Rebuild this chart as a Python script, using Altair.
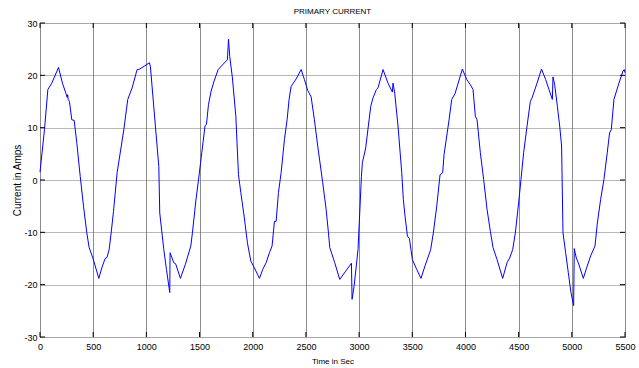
import altair as alt
import pandas as pd

time_s = [0, 42, 74, 111, 174, 211, 243, 255, 260, 265, 277, 299, 321, 346, 378, 409, 440, 462, 497,
          553, 581, 612, 630, 650, 669, 691, 725, 788, 825, 866, 913, 938, 1029, 1038, 1085, 1117, 1126,
          1164, 1189, 1220, 1223, 1258, 1275, 1320, 1367, 1418, 1433, 1465, 1490, 1521, 1552, 1565, 1584,
          1609, 1637, 1675, 1762, 1772, 1784, 1809, 1841, 1866, 1888, 1919, 1950, 1982, 2016, 2063, 2094,
          2126, 2157, 2182, 2204, 2220, 2242, 2267, 2298, 2323, 2342, 2361, 2408, 2455, 2486, 2517, 2549,
          2580, 2611, 2658, 2690, 2712, 2724, 2771, 2818, 2928, 2934, 2953, 2990, 3022, 3031, 3062, 3094,
          3110, 3131, 3163, 3178, 3225, 3272, 3313, 3319, 3335, 3366, 3401, 3416, 3432, 3454, 3473, 3501,
          3542, 3582, 3620, 3673, 3698, 3730, 3761, 3786, 3799, 3824, 3846, 3871, 3902, 3971, 4012, 4046,
          4071, 4093, 4109, 4140, 4171, 4203, 4234, 4259, 4297, 4350, 4391, 4416, 4444, 4469, 4500, 4522,
          4547, 4579, 4610, 4626, 4673, 4715, 4754, 4785, 4817, 4823, 4839, 4864, 4886, 4904, 4917, 4942,
          4967, 4992, 5017, 5023, 5042, 5061, 5108, 5139, 5177, 5218, 5240, 5271, 5302, 5333, 5355, 5371,
          5396, 5443, 5481, 5493, 5500]
current_a = [1.5, 9.6, 17.3, 18.5, 21.5, 18.5, 16.6, 15.8, 16.3, 15.4, 15.0, 11.5, 11.4, 7.1, 0.7, -5.0,
             -10.1, -12.9, -14.9, -18.8, -16.8, -15.0, -14.8, -13.3, -10.1, -6.0, 1.4, 9.6, 15.4, 17.6,
             21.1, 21.2, 22.4, 21.7, 10.3, 2.6, -6.3, -13.3, -17.1, -21.5, -13.9, -15.8, -16.0, -18.8,
             -16.1, -12.6, -10.1, -4.0, 0.0, 5.2, 10.4, 10.6, 14.4, 17.0, 18.9, 21.1, 23.0, 26.9, 23.6,
             19.5, 12.2, 1.0, -2.4, -6.9, -12.0, -15.5, -16.8, -18.8, -17.1, -15.8, -13.9, -12.6, -7.9,
             -7.9, -2.4, 1.4, 7.7, 11.5, 15.4, 17.9, 19.3, 21.1, 19.2, 17.1, 15.9, 11.5, 6.5, -0.5, -5.6,
             -10.1, -12.9, -15.8, -19.0, -15.9, -22.8, -20.3, -13.3, 0.7, 3.3, 6.1, 11.5, 14.1, 15.7,
             17.3, 17.6, 21.1, 18.5, 16.8, 18.5, 16.6, 10.3, 1.4, -3.7, -6.9, -10.7, -11.2, -15.2, -17.1,
             -18.8, -16.4, -13.3, -10.1, -5.0, 1.0, 1.4, 4.9, 8.4, 11.5, 15.4, 16.5, 21.2, 19.2, 18.2,
             17.3, 12.2, 11.5, 5.2, 0.1, -5.6, -9.8, -12.9, -15.2, -18.8, -15.8, -14.9, -13.3, -10.1,
             -4.4, 0.1, 5.2, 10.3, 15.0, 15.7, 18.5, 21.2, 19.2, 17.3, 15.4, 19.7, 18.2, 14.1, 10.3, 6.5,
             -10.1, -13.9, -17.7, -21.5, -24.0, -13.1, -14.9, -15.8, -18.8, -16.8, -14.5, -12.6, -8.2,
             -3.7, 0.1, 5.2, 9.0, 9.6, 15.4, 18.5, 20.8, 21.1, 20.5]

x_ticks = [0, 500, 1000, 1500, 2000, 2500, 3000, 3500, 4000, 4500, 5000, 5500]
y_ticks = [-30, -20, -10, 0, 10, 20, 30]

df = pd.DataFrame({"t": time_s, "i": current_a})

FONT = "Liberation Sans"
xscale = alt.Scale(domain=[0, 5500], nice=False, zero=False)
yscale = alt.Scale(domain=[-30, 30], nice=False, zero=False)

base_x = alt.X("t:Q", scale=xscale, title="Time in Sec",
               axis=alt.Axis(values=x_ticks, grid=True, gridColor="#8c8c8c", gridWidth=1,
                             ticks=False, domain=False, labelFontSize=9, labelFont=FONT,
                             labelExpr="'' + datum.value",
                             labelColor="#000", labelPadding=5, titleFont=FONT, titleFontSize=8,
                             titleFontWeight="normal", titleColor="#000", titlePadding=6,
                             labelFlush=False))
base_y = alt.Y("i:Q", scale=yscale, title="Current in Amps",
               axis=alt.Axis(values=y_ticks, grid=True, gridColor="#707070", gridWidth=1,
                             gridDash=[1, 1], ticks=False, domain=False, labelFontSize=9,
                             labelExpr="'' + datum.value",
                             labelFont=FONT, labelColor="#000", labelPadding=3, titleFont=FONT,
                             titleFontSize=10, titleFontWeight="normal", titleColor="#000",
                             titlePadding=1, labelFlush=False))

line = alt.Chart(df).mark_line(color="#0000ff", strokeWidth=1).encode(x=base_x, y=base_y)

# inward tick marks (MATLAB style)
xt = pd.DataFrame({"t": x_ticks})
yt = pd.DataFrame({"i": y_ticks})
tick_bottom = alt.Chart(xt).mark_rule(color="#000", strokeWidth=1).encode(
    x=alt.X("t:Q", scale=xscale), y=alt.value(314), y2=alt.value(309))
tick_top = alt.Chart(xt).mark_rule(color="#000", strokeWidth=1).encode(
    x=alt.X("t:Q", scale=xscale), y=alt.value(0), y2=alt.value(5))
tick_left = alt.Chart(yt).mark_rule(color="#000", strokeWidth=1).encode(
    y=alt.Y("i:Q", scale=yscale), x=alt.value(0), x2=alt.value(5))
tick_right = alt.Chart(yt).mark_rule(color="#000", strokeWidth=1).encode(
    y=alt.Y("i:Q", scale=yscale), x=alt.value(585), x2=alt.value(580))

chart = alt.layer(line, tick_bottom, tick_top, tick_left, tick_right).properties(
    width=585, height=314,
    title=alt.TitleParams("PRIMARY CURRENT", font=FONT, fontSize=8, fontWeight="normal",
                          color="#000", offset=3, anchor="middle", frame="group"),
    autosize=alt.AutoSizeParams(type="none"),
    padding={"left": 40, "top": 23, "right": 14, "bottom": 31},
).configure_view(stroke="#000", strokeWidth=1.5).configure(background="white")

chart.save("out.html", embed_options={"renderer": "svg", "actions": False})
